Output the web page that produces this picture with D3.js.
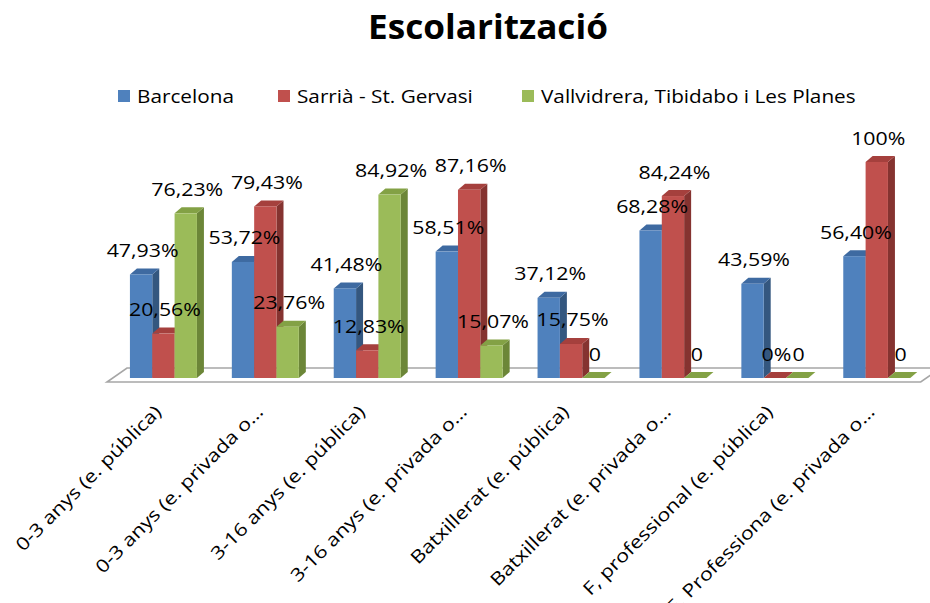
<!DOCTYPE html>
<html><head><meta charset="utf-8">
<script src="https://cdn.jsdelivr.net/npm/d3@7/dist/d3.min.js"></script>
<style>body{margin:0;background:#fff} svg{display:block}</style>
</head><body><svg id="c" width="930" height="603"></svg>
<script>
const title = "Escolarització";
const categories = ["0-3 anys (e. pública)", "0-3 anys (e. privada o…", "3-16 anys (e. pública)", "3-16 anys (e. privada o…", "Batxillerat (e. pública)", "Batxillerat (e. privada o…", "F, professional (e. pública)", "F. Professiona (e. privada o…"];
const seriesNames = ["Barcelona", "Sarrià - St. Gervasi", "Vallvidrera, Tibidabo i Les Planes"];
const barcelona = [47.93, 53.72, 41.48, 58.51, 37.12, 68.28, 43.59, 56.40];
const sarria = [20.56, 79.43, 12.83, 87.16, 15.75, 84.24, 0, 100];
const vallvidrera = [76.23, 23.76, 84.92, 15.07, 0, 0, 0, 0];
const barcelonaLabels = ["47,93%", "53,72%", "41,48%", "58,51%", "37,12%", "68,28%", "43,59%", "56,40%"];
const sarriaLabels = ["20,56%", "79,43%", "12,83%", "87,16%", "15,75%", "84,24%", "0%", "100%"];
const vallvidreraLabels = ["76,23%", "23,76%", "84,92%", "15,07%", "0", "0", "0", "0"];

const seriesValues = [barcelona, sarria, vallvidrera];
const seriesLabels = [barcelonaLabels, sarriaLabels, vallvidreraLabels];
const frontCol = ["#4f81bd", "#c0504d", "#9bbb59"];
const topCol = ["#3e6aa1", "#a5403d", "#83a145"];
const sideCol = ["#34577f", "#853330", "#6c8638"];

const FONT = "'Open Sans', sans-serif";
const svg = d3.select("#c");

function measure(txt, size, weight) {
  const t = svg.append("text").attr("font-family", FONT).attr("font-size", size)
    .attr("font-weight", weight || 400).text(txt);
  const w = t.node().getComputedTextLength();
  t.remove();
  return w;
}

const x0 = d3.scaleBand().domain(categories).range([112.5, 927.7]).paddingInner(0.3425).paddingOuter(0.171);
const x1 = d3.scaleBand().domain(seriesNames).range([0, x0.bandwidth()]).padding(0);
const y = d3.scaleLinear().domain([0, 100]).range([378, 162]);
const DX = 7, DY = -6;

// Title
const titleSize = 34;
const titleSx = 240 / measure(title, titleSize, 700);
svg.append("text").attr("font-family", FONT).attr("font-size", titleSize).attr("font-weight", 700)
  .attr("text-anchor", "middle").attr("fill", "#000")
  .attr("transform", `translate(488,39) scale(${titleSx},1)`).text(title);

// Legend
const legSize = 18.5;
const legSx = 97 / measure(seriesNames[0], legSize);
const legX = [118, 278, 522];
seriesNames.forEach((s, i) => {
  svg.append("rect").attr("x", legX[i]).attr("y", 90).attr("width", 12).attr("height", 12).attr("fill", frontCol[i]);
  svg.append("text").attr("font-family", FONT).attr("font-size", legSize).attr("fill", "#000")
    .attr("transform", `translate(${legX[i] + 19},103) scale(${legSx},1)`).text(s);
});

// Floor
const r = x0.range();
const floorPts = [[r[0] - 5.5, 382], [r[1] - 7, 382], [r[1] + 13, 368], [r[0] + 14.5, 368]];
svg.append("polygon").attr("points", floorPts.map(p => p.join(",")).join(" "))
  .attr("fill", "#fff").attr("stroke", "#a6a6a6").attr("stroke-width", 1.6);

// Bars
const bw = x1.bandwidth();
categories.forEach((c, ci) => {
  seriesNames.forEach((s, si) => {
    const v = seriesValues[si][ci];
    const xl = x0(c) + x1(s), xr = xl + bw;
    const yt = y(v), yb = y(0);
    const g = svg.append("g");
    g.append("polygon").attr("points", [[xr, yt], [xr + DX, yt + DY], [xr + DX, yb + DY], [xr, yb]].map(p => p.join(",")).join(" "))
      .attr("fill", sideCol[si]);
    g.append("polygon").attr("points", [[xl, yt], [xr, yt], [xr + DX, yt + DY], [xl + DX, yt + DY]].map(p => p.join(",")).join(" "))
      .attr("fill", topCol[si]);
    if (v > 0) g.append("rect").attr("x", xl).attr("y", yt).attr("width", bw).attr("height", yb - yt).attr("fill", frontCol[si]);
  });
});

// Value labels
const labSize = 17.5;
const labSx = 72 / measure("47,93%", labSize);
categories.forEach((c, ci) => {
  seriesNames.forEach((s, si) => {
    const v = seriesValues[si][ci];
    const cx = x0(c) + x1(s) + bw / 2 + 1.5;
    svg.append("text").attr("font-family", FONT).attr("font-size", labSize).attr("fill", "#000")
      .attr("text-anchor", "middle")
      .attr("transform", `translate(${cx},${y(v) - 17.5}) scale(${labSx},1)`)
      .text(seriesLabels[si][ci]);
  });
});

// Category labels
const axSize = 18;
const axSx = 197 / measure(categories[0], axSize);
categories.forEach((c) => {
  const ax = x0(c) + x0.bandwidth() / 2 - 1;
  svg.append("text").attr("font-family", FONT).attr("font-size", axSize).attr("fill", "#000")
    .attr("text-anchor", "end")
    .attr("transform", `translate(${ax},413) rotate(-45) scale(${axSx},1)`)
    .text(c);
});
</script>
</body></html>
